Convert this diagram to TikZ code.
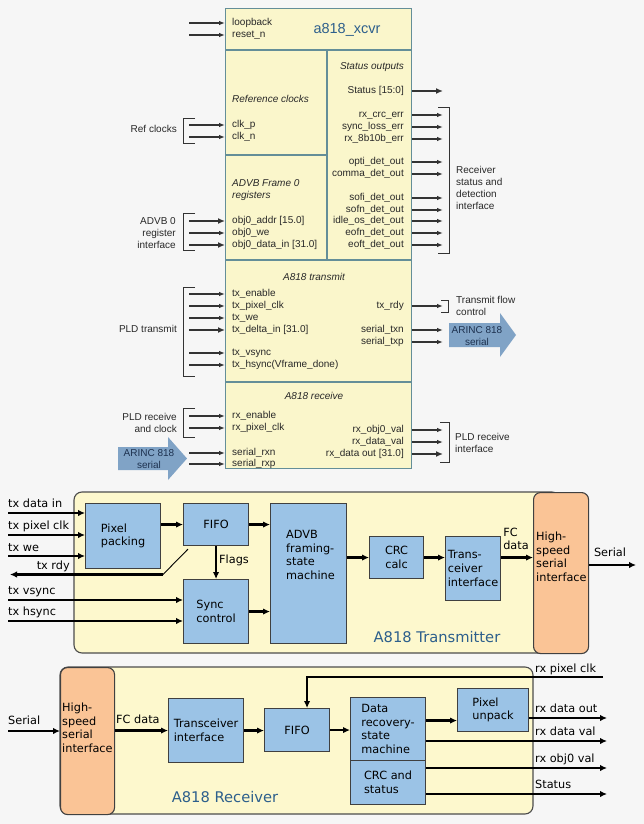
\documentclass[tikz,border=0pt]{standalone}
\usepackage{fontspec}
\setmainfont{Liberation Sans}
\newfontfamily\vfont{DejaVu Sans}
\usetikzlibrary{arrows,arrows.meta,positioning}
\definecolor{bgcol}{RGB}{246,246,246}
\definecolor{xcvrfill}{RGB}{250,246,203}
\definecolor{xcvrline}{RGB}{100,142,152}
\definecolor{panelfill}{RGB}{253,248,205}
\definecolor{blkfill}{RGB}{155,195,230}
\definecolor{hsfill}{RGB}{250,196,150}
\definecolor{titleblue}{RGB}{45,95,140}
\definecolor{arincfill}{RGB}{128,163,198}
\definecolor{arinctext}{RGB}{30,50,80}
\definecolor{sigtext}{RGB}{40,40,40}
\newcommand{\sigsize}{\fontsize{10}{12}\selectfont}
\newcommand{\blksize}{\vfont\fontsize{11.3}{13.6}\selectfont}

\tikzset{
  sig/.style={font=\sigsize, text=sigtext, inner sep=0pt, text height=7.2pt, text depth=2pt},
  sigm/.style={font=\sigsize, text=sigtext, inner sep=0pt},
  lsig/.style={sig, anchor=west},
  rsig/.style={sig, anchor=east},
  sect/.style={sig, font=\sigsize\itshape},
  xbox/.style={draw=xcvrline, fill=xcvrfill, line width=1.3pt, anchor=north west, inner sep=0pt},
  xline/.style={draw=xcvrline, line width=1.3pt},
  pin/.style={draw=black!80, line width=1.1pt, -{Latex[length=6pt,width=4.5pt]}},
  widepin/.style={pin, line width=2.2pt, -{Latex[length=7pt,width=6pt]}},
  brk/.style={draw=black!80, line width=0.9pt},
  arinc/.style={fill=arincfill, draw=none},
  blk/.style={draw=black!75, fill=blkfill, line width=1.1pt, font=\blksize, align=left, inner sep=0pt, anchor=north west},
  hsblk/.style={blk, fill=hsfill, rounded corners=7pt},
  panel/.style={draw=black!70, fill=panelfill, line width=1.1pt, rounded corners=8pt},
  btext/.style={font=\blksize, inner sep=0pt, align=left},
  blab/.style={font=\blksize, inner sep=0pt, text height=8.3pt, text depth=2.4pt},
  bus/.style={draw=black, line width=2.4pt, -{Latex[length=7pt,width=6.5pt]}},
  ptitle/.style={font=\vfont\fontsize{14.7}{17}\selectfont, text=titleblue, inner sep=0pt}
}

\begin{document}
\begin{tikzpicture}[x=1pt,y=-1pt]
\useasboundingbox (0,0) rectangle (644,824);
\fill[bgcol] (0,0) rectangle (644,824);

% a818_xcvr core
\node[xbox, minimum width=186pt, minimum height=460pt] (xcvr) at (225,8) {};
\draw[xline] (225,50) -- (411,50);
\draw[xline] (327,50) -- (327,260);
\draw[xline] (225,155) -- (327,155);
\draw[xline] (225,260) -- (411,260);
\draw[xline] (225,382) -- (411,382);
\node[font=\fontsize{14.5}{17}\selectfont, text=titleblue, inner sep=0pt] (xname) at (347,30) {a818\_xcvr};

\node[sect] (stout) at (372,67) {Status outputs};
\node[sect, anchor=west] (refck) at (232,100) {Reference clocks};
\node[sigm, font=\sigsize\itshape, anchor=west, align=left] (advbf) at (232,190.5) {ADVB Frame 0\\registers};
\node[sect] (txsec) at (314,278) {A818 transmit};
\node[sect] (rxsec) at (314,397) {A818 receive};

% inputs
\coordinate (inrail) at (189,0);
\coordinate (outrail) at (443,0);
\node[lsig] (lbk) at (232,23) {loopback};
\node[lsig] (rstn) at (232,35) {reset\_n};
\node[lsig] (clkp) at (232,125) {clk\_p};
\node[lsig] (clkn) at (232,137) {clk\_n};
\node[lsig] (oaddr) at (232,221) {obj0\_addr [15.0]};
\node[lsig] (owe) at (232,233) {obj0\_we};
\node[lsig] (odata) at (232,245) {obj0\_data\_in [31.0]};
\node[lsig] (txen) at (232,294) {tx\_enable};
\node[lsig] (txpclk) at (232,306) {tx\_pixel\_clk};
\node[lsig] (txwe) at (232,318) {tx\_we};
\node[lsig] (txdelta) at (232,330) {tx\_delta\_in [31.0]};
\node[lsig] (txvs) at (232,353) {tx\_vsync};
\node[lsig] (txhs) at (232,365) {tx\_hsync(Vframe\_done)};
\node[lsig] (rxen) at (232,416) {rx\_enable};
\node[lsig] (rxpclk) at (232,428) {rx\_pixel\_clk};
\node[lsig] (srxn) at (232,453) {serial\_rxn};
\node[lsig] (srxp) at (232,464) {serial\_rxp};

\draw[pin] (inrail |- lbk) -- (xcvr.west |- lbk);
\draw[pin] (inrail |- rstn) -- (xcvr.west |- rstn);
\draw[pin] (inrail |- clkp) -- (xcvr.west |- clkp);
\draw[pin] (inrail |- clkn) -- (xcvr.west |- clkn);
\draw[widepin] (inrail |- oaddr) -- (xcvr.west |- oaddr);
\draw[pin] (inrail |- owe) -- (xcvr.west |- owe);
\draw[widepin] (inrail |- odata) -- (xcvr.west |- odata);
\draw[pin] (inrail |- txen) -- (xcvr.west |- txen);
\draw[pin] (inrail |- txpclk) -- (xcvr.west |- txpclk);
\draw[pin] (inrail |- txwe) -- (xcvr.west |- txwe);
\draw[widepin] (inrail |- txdelta) -- (xcvr.west |- txdelta);
\draw[pin] (inrail |- txvs) -- (xcvr.west |- txvs);
\draw[pin] (inrail |- txhs) -- (xcvr.west |- txhs);
\draw[pin] (inrail |- rxen) -- (xcvr.west |- rxen);
\draw[pin] (inrail |- rxpclk) -- (xcvr.west |- rxpclk);
\draw[pin] (inrail |- srxn) -- (xcvr.west |- srxn);
\draw[pin] (inrail |- srxp) -- (xcvr.west |- srxp);

% outputs
\node[rsig] (stat) at (404,91) {Status [15:0]};
\node[rsig] (crcerr) at (404,115) {rx\_crc\_err};
\node[rsig] (syncerr) at (404,127) {sync\_loss\_err};
\node[rsig] (errb) at (404,139) {rx\_8b10b\_err};
\node[rsig] (opti) at (404,162) {opti\_det\_out};
\node[rsig] (comma) at (404,174) {comma\_det\_out};
\node[rsig] (sofi) at (404,198) {sofi\_det\_out};
\node[rsig] (sofn) at (404,210) {sofn\_det\_out};
\node[rsig] (idle) at (404,221) {idle\_os\_det\_out};
\node[rsig] (eofn) at (404,233) {eofn\_det\_out};
\node[rsig] (eoft) at (404,245) {eoft\_det\_out};
\node[rsig] (txrdy) at (404,306) {tx\_rdy};
\node[rsig] (stxn) at (404,330) {serial\_txn};
\node[rsig] (stxp) at (404,342) {serial\_txp};
\node[rsig] (robj) at (404,430) {rx\_obj0\_val};
\node[rsig] (rdval) at (404,442) {rx\_data\_val};
\node[rsig] (rdout) at (404,454) {rx\_data out [31.0]};

\draw[widepin] (xcvr.east |- stat) -- (outrail |- stat);
\draw[pin] (xcvr.east |- crcerr) -- (outrail |- crcerr);
\draw[pin] (xcvr.east |- syncerr) -- (outrail |- syncerr);
\draw[pin] (xcvr.east |- errb) -- (outrail |- errb);
\draw[pin] (xcvr.east |- opti) -- (outrail |- opti);
\draw[pin] (xcvr.east |- comma) -- (outrail |- comma);
\draw[pin] (xcvr.east |- sofi) -- (outrail |- sofi);
\draw[pin] (xcvr.east |- sofn) -- (outrail |- sofn);
\draw[pin] (xcvr.east |- idle) -- (outrail |- idle);
\draw[pin] (xcvr.east |- eofn) -- (outrail |- eofn);
\draw[pin] (xcvr.east |- eoft) -- (outrail |- eoft);
\draw[pin] (xcvr.east |- txrdy) -- (outrail |- txrdy);
\draw[pin] (xcvr.east |- stxn) -- (outrail |- stxn);
\draw[pin] (xcvr.east |- stxp) -- (outrail |- stxp);
\draw[pin] (xcvr.east |- robj) -- (outrail |- robj);
\draw[pin] (xcvr.east |- rdval) -- (outrail |- rdval);
\draw[widepin] (xcvr.east |- rdout) -- (outrail |- rdout);

% brackets and side notes
\draw[brk] (195,118) -| (183,143) -- (195,143);
\draw[brk] (195,213) -| (183,250) -- (195,250);
\draw[brk] (195,287) -| (183,376) -- (195,376);
\draw[brk] (195,408) -| (183,437) -- (195,437);
\draw[brk] (438,107) -| (449,253) -- (438,253);
\draw[brk] (441,300) -| (448,312) -- (441,312);
\draw[brk] (440,422) -| (449,462) -- (440,462);
\node[rsig] (refcl) at (177,130) {Ref clocks};
\node[sigm, anchor=east, align=right] (advb0) at (176,233) {ADVB 0\\register\\interface};
\node[rsig] (pldtx) at (177,330) {PLD transmit};
\node[sigm, anchor=east, align=right] (pldrxc) at (177,423) {PLD receive\\and clock};
\node[sigm, anchor=west, align=left] (rxstatif) at (456,188) {Receiver\\status and\\detection\\interface};
\node[sigm, anchor=west, align=left] (txflow) at (456,306) {Transmit flow\\control};
\node[sigm, anchor=west, align=left] (pldrxif) at (455,442.5) {PLD receive\\interface};

% ARINC 818 serial arrows
\fill[arinc] (449,323) -- (500,323) -- (500,313) -- (516,335) -- (500,357) -- (500,347) -- (449,347) -- cycle;
\node[sigm, align=center, text=arinctext] (arincout) at (477,336) {ARINC 818\\serial};
\fill[arinc] (118,447) -- (168,447) -- (168,437) -- (187,458.5) -- (168,480) -- (168,470) -- (118,470) -- cycle;
\node[sigm, align=center, text=arinctext] (arincin) at (149,459) {ARINC 818\\serial};

% A818 transmitter
\draw[panel] (74,492) rectangle (560,653);
\node[blk, minimum width=75pt, minimum height=65pt] (pixpack) at (85,503) {Pixel\\packing};
\node[blk, minimum width=65pt, minimum height=42pt] (txfifo) at (183,503) {FIFO};
\node[blk, minimum width=65pt, minimum height=64pt] (sync) at (183,579) {Sync\\control};
\node[blk, minimum width=76pt, minimum height=140pt] (adsm) at (270,503) {};
\node[btext, anchor=north west] (adsmtxt) at (286,530) {ADVB\\framing-\\state\\machine};
\node[blk, align=center, minimum width=54pt, minimum height=42pt] (crc) at (369,536) {CRC\\calc};
\node[blk, minimum width=55pt, minimum height=64pt] (xcv) at (445,536) {Trans-\\ceiver\\interface};
\node[hsblk, minimum width=55pt, minimum height=161pt] (hstx) at (533,492) {};
\node[btext, anchor=north west] (hstxtxt) at (536,532) {High-\\speed\\serial\\interface};
\node[ptitle] (txtitle) at (437,637) {A818 Transmitter};

\coordinate (txdin) at (8,513);
\coordinate (txpck) at (8,535);
\coordinate (txwen) at (8,556);
\coordinate (rdyknee) at (163,574.5);
\coordinate (rdyout) at (10,574.5);
\coordinate (txvsy) at (8,600);
\coordinate (txhsy) at (8,621);
\coordinate (serout) at (636,565);
\node[blab, anchor=west] (ltxdin) at (8,505) {tx data in};
\node[blab, anchor=west] (ltxpck) at (8,527) {tx pixel clk};
\node[blab, anchor=west] (ltxwe) at (8,549) {tx we};
\node[blab, anchor=east] (ltxrdy) at (70,567) {tx rdy};
\node[blab, anchor=west] (ltxvs) at (8,592) {tx vsync};
\node[blab, anchor=west] (ltxhs) at (8,613) {tx hsync};
\node[blab, anchor=west] (lflags) at (219,561) {Flags};
\node[btext] (lfcdata) at (516,539) {FC\\data};
\node[blab] (lserout) at (610,554) {Serial};

\draw[bus] (txdin) -- (txdin -| pixpack.west);
\draw[bus] (txpck) -- (txpck -| pixpack.west);
\draw[bus] (txwen) -- (txwen -| pixpack.west);
\draw[line width=0.9pt] ([xshift=5pt,yshift=-3pt]txfifo.south west) -- (rdyknee);
\draw[bus] (rdyknee) -- (rdyout);
\draw[bus] (txvsy) -- (txvsy -| sync.west);
\draw[bus] (txhsy) -- (txhsy -| sync.west);
\draw[bus] (pixpack.east |- txfifo) -- (txfifo.west);
\draw[bus] (txfifo.east) -- (txfifo.east -| adsm.west);
\draw[bus] (txfifo.south) -- (sync.north);
\draw[bus] (sync.east) -- (sync.east -| adsm.west);
\draw[bus] (adsm.east |- crc) -- (crc.west);
\draw[bus] (crc.east) -- (crc.east -| xcv.west);
\draw[bus] (xcv.east |- crc) -- (hstx.west |- crc);
\draw[bus] (hstx.east |- serout) -- (serout);

% A818 receiver
\draw[panel] (60,667) rectangle (533,814);
\node[hsblk, minimum width=54pt, minimum height=147pt] (hsrx) at (60,667) {};
\node[btext, anchor=north west] (hsrxtxt) at (62,703) {High-\\speed\\serial\\interface};
\node[blk, minimum width=75pt, minimum height=64pt] (rxxcv) at (168,698) {Transceiver\\interface};
\node[blk, align=center, minimum width=65pt, minimum height=43pt] (rxfifo) at (264,708) {FIFO};
\node[blk, minimum width=75pt, minimum height=63pt] (drsm) at (350,697) {Data\\recovery-\\state\\machine};
\node[blk, minimum width=75pt, minimum height=44pt] (crcst) at (350,760) {CRC and\\status};
\node[blk, minimum width=71pt, minimum height=43pt] (pixunp) at (457,688) {Pixel\\unpack};
\node[ptitle] (rxtitle) at (225,797) {A818 Receiver};

\coordinate (serin) at (8,731);
\coordinate (pclkin) at (603,677);
\coordinate (pclkdn) at ([xshift=10pt]rxfifo.north);
\coordinate (dr2pu) at ([yshift=8.5pt]drsm.east);
\coordinate (rxdout) at (607,718);
\coordinate (rxdval) at (607,741);
\coordinate (rxobj) at (607,768);
\coordinate (rxstat) at (607,794);
\node[blab, anchor=west] (lserin) at (8,722) {Serial};
\node[blab, anchor=west] (lfcin) at (116,721) {FC data};
\node[blab, anchor=west] (lpclk) at (535,670) {rx pixel clk};
\node[blab, anchor=west] (lrxdout) at (535,710) {rx data out};
\node[blab, anchor=west] (lrxdval) at (535,733) {rx data val};
\node[blab, anchor=west] (lrxobj) at (535,760) {rx obj0 val};
\node[blab, anchor=west] (lrxstat) at (535,786) {Status};

\draw[bus] (serin) -- (serin -| hsrx.west);
\draw[bus] (hsrx.east |- rxxcv) -- (rxxcv.west);
\draw[bus] (rxxcv.east) -- (rxxcv.east -| rxfifo.west);
\draw[bus] (rxfifo.east) -- (rxfifo.east -| drsm.west);
\draw[bus] (dr2pu) -- (dr2pu -| pixunp.west);
\draw[bus] (pclkin) -| (pclkdn);
\draw[bus] (pixunp.east |- rxdout) -- (rxdout);
\draw[bus] (drsm.east |- rxdval) -- (rxdval);
\draw[bus] (crcst.east |- rxobj) -- (rxobj);
\draw[bus] (crcst.east |- rxstat) -- (rxstat);
\end{tikzpicture}
\end{document}
